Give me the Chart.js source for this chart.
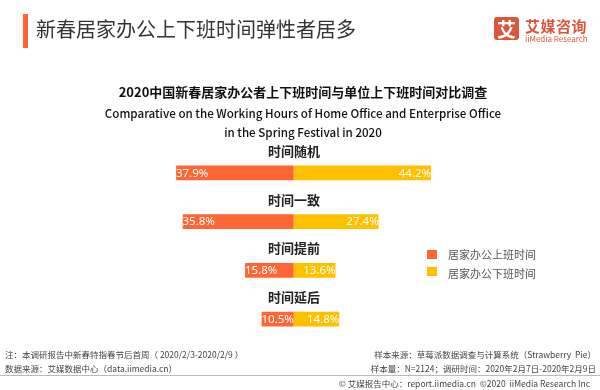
<!DOCTYPE html>
<html>
<head>
<meta charset="utf-8">
<script src="https://cdn.jsdelivr.net/npm/chart.js@4"></script>
<style>
  html, body { margin: 0; padding: 0; background: #fff; }
  #wrap { position: relative; width: 600px; height: 390px; overflow: hidden; font-family: "Noto Sans CJK SC", "Noto Sans", sans-serif; }
  #wrap div { position: absolute; white-space: nowrap; }
  canvas { position: absolute; left: 0; top: 0; }
  .t { left: 0; width: 606px; text-align: center; color: #111; }
  .foot { font-size: 8.5px; line-height: 12px; color: #444; }
  .leg { font-size: 11px; line-height: 14px; color: #555; }
  .sq { width: 10px; height: 9px; }
</style>
</head>
<body>
<div id="wrap">
  <canvas id="chart" width="600" height="390"></canvas>

  <div style="left:23px;top:14px;width:5px;height:34px;background:#ff6633;"></div>
  <div style="left:36px;top:16px;font-size:20px;line-height:26px;color:#333;">新春居家办公上下班时间弹性者居多</div>

  <div style="left:494px;top:17px;width:25px;height:23px;background:#d9583b;border-radius:3px;color:#fff;font-size:19px;line-height:23px;text-align:center;font-weight:bold;">艾</div>
  <div style="left:525px;top:17px;font-size:15px;line-height:18px;color:#d9583b;font-weight:bold;letter-spacing:0.5px;">艾媒咨询</div>
  <div style="left:525px;top:34px;font-size:8px;line-height:10px;color:#d9583b;">iiMedia Research</div>

  <div class="t" style="top:83px;font-size:13px;line-height:18px;font-weight:bold;">2020中国新春居家办公者上下班时间与单位上下班时间对比调查</div>
  <div class="t" style="top:104px;font-size:11.6px;line-height:18px;font-weight:500;">Comparative on the Working Hours of Home Office and Enterprise Office</div>
  <div class="t" style="top:123px;font-size:11.6px;line-height:18px;font-weight:500;">in the Spring Festival in 2020</div>

  <div class="sq" style="left:427px;top:250px;background:#ff6633;"></div>
  <div class="leg" id="leg0" style="left:448px;top:247px;"></div>
  <div class="sq" style="left:427px;top:267px;background:#ffc000;"></div>
  <div class="leg" id="leg1" style="left:448px;top:266px;"></div>

  <div class="foot" style="left:5px;top:348px;">注：本调研报告中新春特指春节后首周（ 2020/2/3-2020/2/9 ）</div>
  <div class="foot" style="left:5px;top:362px;">数据来源：艾媒数据中心（data.iimedia.cn）</div>
  <div class="foot" style="right:4px;top:348px;">样本来源：草莓派数据调查与计算系统（Strawberry&nbsp;&nbsp;Pie）</div>
  <div class="foot" style="right:4px;top:362px;">样本量：N=2124；调研时间：2020年2月7日-2020年2月9日</div>
  <div style="left:0;top:375px;width:600px;height:1px;background:#bbb;"></div>
  <div class="foot" style="right:10px;top:377px;">© 艾媒报告中心：report.iimedia.cn&nbsp;&nbsp;©2020&nbsp;&nbsp;iiMedia Research Inc</div>
</div>

<script>
const categories = ['时间随机', '时间一致', '时间提前', '时间延后'];
const seriesNames = ['居家办公上班时间', '居家办公下班时间'];
const startValues = [37.9, 35.8, 15.8, 10.5];
const endValues = [44.2, 27.4, 13.6, 14.8];
const colors = ['#ff6633', '#ffc000'];

document.getElementById('leg0').textContent = seriesNames[0];
document.getElementById('leg1').textContent = seriesNames[1];

// category names above each bar + percentage labels inside bars
const barText = {
  id: 'barText',
  afterDatasetsDraw(chart) {
    const c = chart.ctx;
    const yScale = chart.scales.y;
    c.save();
    c.textBaseline = 'middle';
    c.fillStyle = '#222';
    c.font = 'bold 13px "Noto Sans CJK SC"';
    c.textAlign = 'center';
    categories.forEach((name, i) => {
      c.fillText(name, 294, yScale.getPixelForValue(i) - 22);
    });

    c.font = '11.5px "Noto Sans", sans-serif';
    c.fillStyle = '#fff';
    chart.getDatasetMeta(0).data.forEach((bar, i) => {
      c.textAlign = 'left';
      c.fillText(startValues[i].toFixed(1) + '%', Math.min(bar.x, bar.base) + 0.5, bar.y + 0.5);
    });
    chart.getDatasetMeta(1).data.forEach((bar, i) => {
      c.textAlign = 'right';
      c.fillText(endValues[i].toFixed(1) + '%', Math.max(bar.x, bar.base) - 0.5, bar.y + 0.5);
    });
    c.restore();
  }
};

new Chart(document.getElementById('chart').getContext('2d'), {
  type: 'bar',
  data: {
    labels: categories,
    datasets: [
      {
        label: seriesNames[0],
        data: startValues.map(v => -v),
        backgroundColor: colors[0],
        borderColor: 'rgba(255,255,255,0.45)',
        borderWidth: 1,
        barThickness: 16
      },
      {
        label: seriesNames[1],
        data: endValues,
        backgroundColor: colors[1],
        borderColor: 'rgba(255,255,255,0.45)',
        borderWidth: 1,
        barThickness: 16
      }
    ]
  },
  options: {
    indexAxis: 'y',
    responsive: false,
    animation: false,
    layout: { padding: { left: 106.5, right: 119.1, top: 148.6, bottom: 46.6 } },
    plugins: {
      legend: { display: false },
      tooltip: { enabled: false }
    },
    scales: {
      x: { stacked: true, min: -60, max: 60, display: false },
      y: { stacked: true, display: false }
    }
  },
  plugins: [barText]
});
</script>
</body>
</html>
